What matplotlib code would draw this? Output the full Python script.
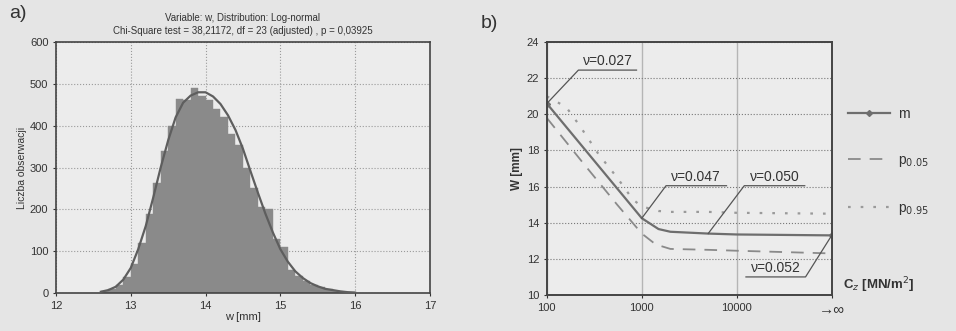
import numpy as np
import matplotlib
matplotlib.use("Agg")
import matplotlib.pyplot as plt

plt.rcParams['font.family'] = ['Liberation Sans', 'DejaVu Sans']

# a) histogram of w (bin edges in mm, counts)
bin_edges = [12.6, 12.7, 12.8, 12.9, 13.0, 13.1, 13.2, 13.3, 13.4, 13.5, 13.6,
             13.7, 13.8, 13.9, 14.0, 14.1, 14.2, 14.3, 14.4, 14.5, 14.6, 14.7,
             14.8, 14.9, 15.0, 15.1, 15.2, 15.3, 15.4, 15.5, 15.6, 15.7, 15.8,
             15.9, 16.0]
counts = [5, 10, 20, 38, 70, 120, 190, 262, 340, 400, 465, 462, 490, 470, 462,
          440, 420, 380, 355, 300, 250, 205, 200, 130, 110, 55, 40, 28, 20, 14,
          9, 5, 3, 2]

# fitted log-normal curve
fit_x = [12.6, 12.7, 12.8, 12.9, 13.0, 13.1, 13.2, 13.3, 13.4, 13.5, 13.6, 13.7,
         13.8, 13.9, 14.0, 14.1, 14.2, 14.3, 14.4, 14.5, 14.6, 14.7, 14.8, 14.9,
         15.0, 15.1, 15.2, 15.3, 15.4, 15.5, 15.6, 15.7, 15.8, 15.9, 16.0]
fit_y = [3, 7, 15, 32, 60, 105, 160, 228, 300, 365, 420, 455, 472, 480, 480,
         470, 452, 425, 390, 345, 292, 240, 190, 145, 105, 75, 52, 36, 24, 16,
         10, 7, 4, 2, 1]

# b) W against C_z (100000 stands for infinity)
m_x = [100, 1000, 1500, 2000, 5000, 10000, 100000]
m_w = [20.6, 14.25, 13.65, 13.5, 13.4, 13.35, 13.3]
p05_x = [100, 250, 550, 1000, 1400, 2000, 5000, 10000, 100000]
p05_w = [19.8, 17.2, 15.0, 13.4, 12.8, 12.55, 12.5, 12.45, 12.3]
p95_x = [100, 160, 220, 350, 550, 800, 1000, 1500, 2000, 5000, 10000, 100000]
p95_w = [21.0, 20.4, 19.4, 17.8, 16.5, 15.3, 14.9, 14.65, 14.6, 14.6, 14.55, 14.5]

x_ticks = [100, 1000, 10000, 100000]
x_ticklabels = ['100', '1000', '10000', '\u2192\u221e']

# annotations: text, point, underline from x, underline to x, underline y
notes = [
    ('\u03bd=0.027', (100, 20.6), 215, 880, 22.45),
    ('\u03bd=0.047', (1000, 14.25), 1800, 7800, 16.05),
    ('\u03bd=0.050', (5000, 13.4), 12000, 52000, 16.05),
    ('\u03bd=0.052', (100000, 13.3), 53000, 12500, 11.0),
]

fig = plt.figure(figsize=(9.56, 3.31), dpi=100)
fig.patch.set_facecolor('#e5e5e5')

# ---- panel a ----
ax1 = fig.add_axes([0.0586, 0.1148, 0.391, 0.758])
ax1.set_facecolor('#ececec')
ax1.hist(bin_edges[:-1], bins=bin_edges, weights=counts, color='#8a8a8a',
         edgecolor='#8a8a8a', linewidth=0.3, zorder=2)
ax1.plot(fit_x, fit_y, color='#5e5e5e', lw=1.6, zorder=3)
ax1.set_xlim(12, 17)
ax1.set_ylim(0, 600)
ax1.set_xticks([12, 13, 14, 15, 16, 17])
ax1.set_yticks(range(0, 601, 100))
ax1.grid(True, color='#9a9a9a', ls=':', lw=0.8, zorder=0)
ax1.set_axisbelow(True)
for s in ax1.spines.values():
    s.set_color('#444444')
    s.set_linewidth(1.2)
ax1.tick_params(labelsize=8, colors='#333333', length=2)
ax1.set_xlabel('w [mm]', fontsize=8, color='#333333', labelpad=1)
ax1.set_ylabel('Liczba obserwacji', fontsize=7.5, color='#333333', labelpad=2)
ax1.set_title('Variable: w, Distribution: Log-normal\n'
              'Chi-Square test = 38,21172, df = 23 (adjusted) , p = 0,03925',
              fontsize=7, color='#333333', pad=6, linespacing=1.4)
fig.text(0.01, 0.945, 'a)', fontsize=14, color='#333333')

# ---- panel b ----
ax2 = fig.add_axes([0.572, 0.1088, 0.298, 0.764])
ax2.set_facecolor('#ececec')
ax2.set_xscale('log')
ax2.set_xlim(100, 100000)
ax2.set_ylim(10, 24)
ax2.set_yticks(range(10, 25, 2))
ax2.set_xticks(x_ticks)
ax2.set_xticklabels(x_ticklabels)
ax2.minorticks_off()
ax2.yaxis.grid(True, color='#777777', ls=':', lw=0.8)
ax2.xaxis.grid(True, color='#b5b5b5', ls='-', lw=1.0)
ax2.set_axisbelow(True)
for s in ax2.spines.values():
    s.set_color('#444444')
    s.set_linewidth(1.4)
ax2.tick_params(labelsize=8, colors='#333333', length=2)
ax2.get_xticklabels()[-1].set_fontsize(11)

l_m, = ax2.plot(m_x, m_w, color='#6e6e6e', lw=1.6, marker='D', ms=3,
                markevery=[0, len(m_x) - 1], label='m')
l_p05, = ax2.plot(p05_x, p05_w, color='#8a8a8a', lw=1.3, ls=(0, (7, 5)),
                  label='p$_{0.05}$')
l_p95, = ax2.plot(p95_x, p95_w, color='#9a9a9a', lw=1.6, ls=(0, (1.2, 4.5)),
                  label='p$_{0.95}$')

for text, pt, x_a, x_b, y0 in notes:
    ax2.plot([pt[0], x_a, x_b], [pt[1], y0, y0], color='#555555', lw=0.9,
             clip_on=False)
    ax2.text(np.sqrt(x_a * x_b), y0 + 0.1, text, fontsize=10, color='#333333',
             ha='center', va='bottom')

ax2.set_ylabel('W [mm]', fontsize=8.5, fontweight='bold', color='#333333',
               labelpad=3)
ax2.text(1.04, 0.04, 'C$_z$ [MN/m$^2$]', transform=ax2.transAxes,
         fontsize=9.5, fontweight='bold', color='#333333', ha='left',
         va='center')
leg = ax2.legend(handles=[l_m, l_p05, l_p95], loc='center left',
                 bbox_to_anchor=(1.015, 0.525), frameon=False, fontsize=10,
                 handlelength=3.0, labelspacing=2.3, handletextpad=0.6)
for t in leg.get_texts():
    t.set_color('#333333')
fig.text(0.503, 0.915, 'b)', fontsize=14, color='#333333')

fig.savefig('out.png', dpi=100, facecolor=fig.get_facecolor())
